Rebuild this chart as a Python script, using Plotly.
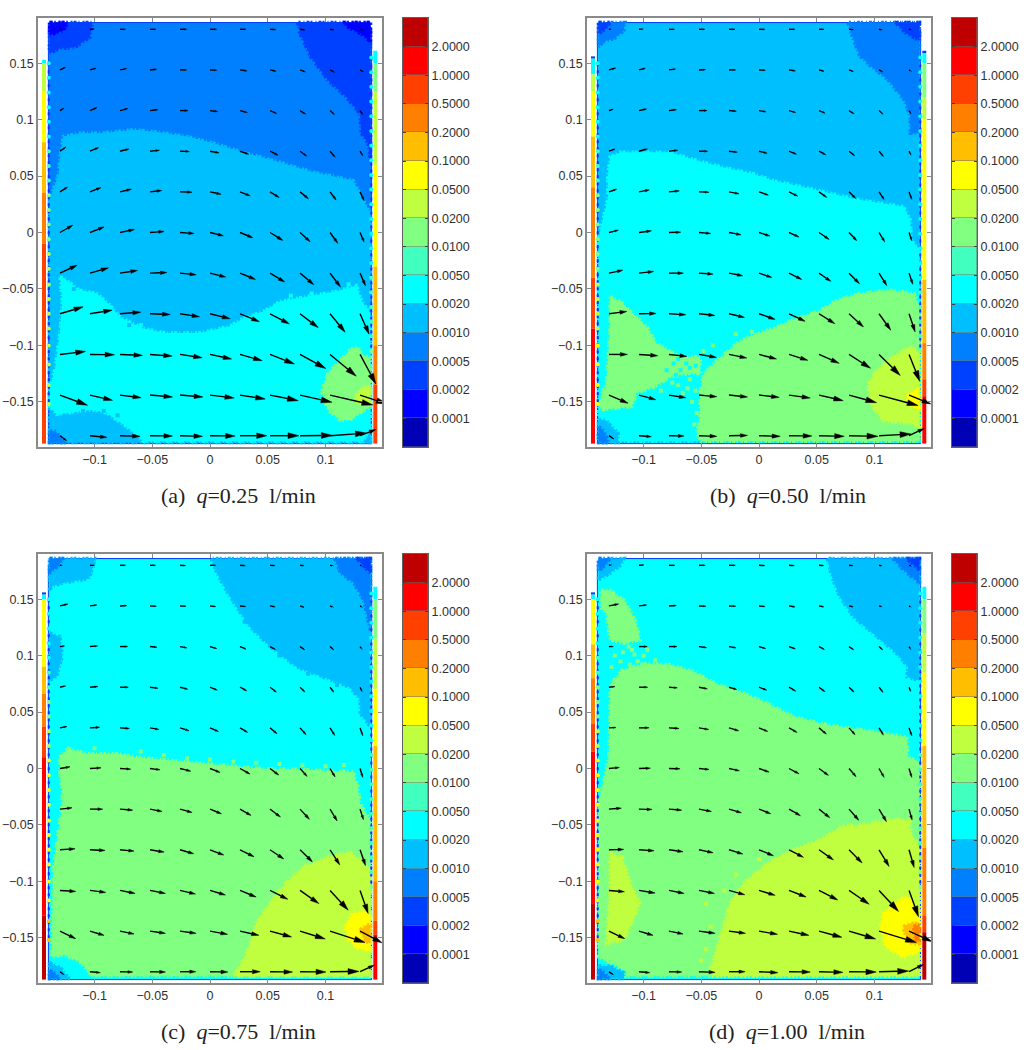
import plotly.graph_objects as go

W, H = 1030, 1050

# colour bands, lowest to highest
band_colors = ["#0000B4", "#0000FF", "#0040FF", "#0080FF", "#00BFFF", "#00FFFF", "#40FFBF", "#80FF80",
               "#BFFF40", "#FFFF00", "#FFBF00", "#FF8000", "#FF4000", "#FF0000", "#BF0000"]
band_labels = ["0.0001", "0.0002", "0.0005", "0.0010", "0.0020", "0.0050", "0.0100", "0.0200",
               "0.0500", "0.1000", "0.2000", "0.5000", "1.0000", "2.0000"]

xticks = [-0.1, -0.05, 0, 0.05, 0.1]
xticktext = ["\u22120.1", "\u22120.05", "0", "0.05", "0.1"]
yticks = [-0.15, -0.1, -0.05, 0, 0.05, 0.1, 0.15]
yticktext = ["\u22120.15", "\u22120.1", "\u22120.05", "0", "0.05", "0.1", "0.15"]

# quiver grid (m)
grid_x = [-0.13, -0.104, -0.078, -0.052, -0.026, 0, 0.026, 0.052, 0.078, 0.104, 0.13]
grid_y = [0.18, 0.144, 0.108, 0.072, 0.036, 0, -0.036, -0.072, -0.108, -0.144, -0.18]

# quiver components, one row per grid_y; V is read downwards
Ua = [[6, 13, 17, 18, 20, 20, 18, 18, 15, 12, 8],
      [17, 18, 20, 20, 20, 20, 21, 18, 16, 13, 10],
      [12, 21, 23, 24, 24, 23, 22, 20, 17, 13, 8],
      [18, 26, 27, 28, 28, 27, 26, 24, 20, 15, 8],
      [23, 33, 34, 35, 36, 33, 30, 27, 25, 18, 12],
      [38, 42, 43, 42, 42, 40, 38, 38, 30, 23, 12],
      [51, 55, 52, 50, 48, 47, 46, 44, 41, 31, 16],
      [69, 66, 62, 60, 58, 60, 58, 58, 54, 45, 27],
      [76, 73, 67, 66, 66, 64, 66, 73, 77, 78, 47],
      [82, 67, 63, 67, 68, 72, 75, 84, 95, 127, 80],
      [20, 50, 60, 67, 67, 75, 80, 86, 96, 108, 47]]
Va = [[0, -1, 0, 0, 0, 0, 0, 1, 2, 2, 3],
      [-8, -5, -4, -2, 0, 1, 3, 4, 6, 7, 6],
      [-7, -9, -6, -3, 0, 3, 6, 9, 11, 12, 12],
      [-13, -11, -7, -3, 1, 5, 9, 12, 15, 18, 14],
      [-15, -13, -8, -4, 1, 7, 12, 17, 21, 25, 27],
      [-22, -17, -9, -3, 3, 10, 16, 24, 28, 33, 29],
      [-24, -16, -8, -2, 5, 12, 19, 27, 35, 42, 38],
      [-21, -11, -5, 2, 9, 15, 24, 31, 42, 56, 62],
      [-9, 1, 3, 5, 10, 14, 19, 29, 43, 66, 90],
      [31, 16, 8, 6, 6, 9, 12, 17, 22, 30, 27],
      [15, 5, 2, 1, 2, 1, 0, 0, -1, -8, -19]]

Ub = [[7, 13, 17, 18, 18, 18, 18, 15, 13, 10, 7],
      [20, 19, 20, 20, 20, 19, 19, 15, 13, 11, 7],
      [13, 23, 23, 24, 22, 21, 20, 18, 15, 12, 6],
      [18, 25, 26, 26, 25, 24, 22, 20, 17, 13, 6],
      [23, 31, 31, 30, 30, 28, 26, 23, 20, 15, 8],
      [28, 37, 35, 35, 36, 33, 30, 30, 23, 17, 8],
      [41, 44, 43, 42, 41, 38, 38, 35, 31, 23, 11],
      [53, 51, 50, 47, 46, 48, 48, 47, 43, 35, 18],
      [55, 56, 53, 52, 53, 52, 56, 60, 64, 63, 32],
      [57, 50, 50, 53, 55, 60, 63, 72, 82, 116, 65],
      [15, 37, 45, 53, 55, 63, 68, 75, 86, 95, 45]]
Vb = [[0, -1, 0, 0, 0, 0, 0, 0, 1, 2, 2],
      [-6, -5, -3, -1, 0, 1, 3, 4, 5, 6, 5],
      [-4, -5, -3, 0, 2, 4, 6, 8, 10, 11, 10],
      [-7, -7, -3, 0, 3, 6, 9, 11, 14, 16, 12],
      [-8, -6, -3, 1, 6, 10, 13, 17, 20, 23, 23],
      [-7, -5, -1, 3, 7, 11, 14, 21, 25, 29, 25],
      [-9, -5, 0, 3, 8, 13, 19, 25, 32, 38, 34],
      [-7, -1, 3, 5, 11, 17, 23, 30, 40, 50, 55],
      [0, 4, 6, 9, 11, 14, 18, 27, 42, 64, 82],
      [25, 14, 8, 5, 6, 7, 9, 17, 23, 32, 27],
      [10, 3, 1, 2, -1, 2, 1, 2, 2, -5, -22]]

Uc = [[7, 14, 17, 17, 17, 17, 16, 15, 12, 10, 7],
      [24, 21, 21, 19, 18, 17, 17, 15, 12, 10, 7],
      [14, 23, 23, 21, 21, 20, 18, 16, 14, 11, 6],
      [17, 24, 25, 24, 23, 22, 20, 19, 15, 11, 6],
      [21, 29, 28, 27, 27, 25, 23, 21, 18, 14, 8],
      [30, 33, 32, 30, 32, 30, 30, 26, 21, 15, 8],
      [36, 38, 38, 36, 36, 34, 33, 31, 28, 21, 10],
      [45, 45, 42, 42, 41, 41, 42, 41, 37, 29, 16],
      [47, 47, 45, 46, 46, 46, 48, 53, 56, 54, 24],
      [47, 42, 42, 46, 48, 52, 56, 64, 75, 104, 66],
      [12, 31, 38, 46, 47, 53, 60, 67, 77, 86, 42]]
Vc = [[0, 0, 0, 0, 1, 0, 1, 1, 1, 2, 3],
      [-6, -3, -1, 1, 1, 2, 2, 3, 4, 5, 5],
      [-2, -2, 0, 2, 4, 6, 8, 9, 10, 10, 9],
      [-4, -2, 0, 3, 6, 9, 11, 15, 15, 15, 13],
      [-4, -2, 2, 5, 9, 11, 14, 18, 21, 23, 24],
      [-5, -2, 2, 4, 8, 12, 17, 20, 24, 26, 27],
      [-4, 0, 3, 7, 10, 14, 19, 24, 31, 36, 32],
      [-3, 2, 4, 7, 12, 16, 21, 28, 37, 46, 48],
      [3, 6, 9, 9, 11, 14, 20, 27, 40, 60, 70],
      [23, 13, 9, 7, 7, 10, 13, 18, 24, 35, 36],
      [9, 3, 1, 1, 0, 1, 0, 1, 1, -1, -20]]

Ud = [[8, 15, 18, 19, 19, 18, 16, 14, 12, 9, 7],
      [29, 23, 22, 21, 20, 18, 18, 14, 12, 9, 6],
      [13, 25, 24, 23, 21, 20, 19, 16, 14, 11, 5],
      [18, 26, 25, 25, 23, 23, 20, 18, 15, 12, 5],
      [21, 30, 30, 29, 29, 26, 24, 22, 18, 13, 8],
      [31, 34, 33, 30, 31, 30, 30, 28, 21, 15, 8],
      [37, 39, 38, 37, 37, 35, 34, 32, 29, 22, 9],
      [44, 45, 42, 42, 41, 43, 43, 43, 39, 30, 15],
      [46, 48, 45, 46, 47, 48, 51, 56, 60, 58, 28],
      [47, 42, 42, 48, 49, 55, 59, 68, 79, 111, 68],
      [13, 32, 38, 48, 48, 56, 63, 71, 81, 88, 43]]
Vd = [[-1, -1, 0, 0, 0, 1, 1, 1, 1, 2, 3],
      [-6, -3, -1, 1, 1, 2, 3, 3, 3, 3, 4],
      [0, 0, 0, 3, 4, 6, 7, 9, 10, 10, 9],
      [-2, 0, 2, 5, 7, 9, 12, 14, 15, 16, 13],
      [-1, 0, 2, 5, 9, 11, 14, 19, 21, 22, 24],
      [-3, -1, 1, 3, 7, 11, 16, 21, 25, 27, 27],
      [-3, 1, 3, 7, 11, 14, 20, 26, 34, 38, 33],
      [-1, 3, 6, 9, 13, 18, 23, 31, 40, 51, 54],
      [4, 8, 9, 9, 13, 15, 20, 29, 42, 64, 80],
      [23, 13, 9, 7, 7, 10, 13, 19, 24, 35, 32],
      [9, 3, 1, 2, 0, 3, 1, 2, 1, -2, -22]]

# tank outline (mm)
fluid_outline = [(-140, -187), (-140, 180), (-138, 184), (-134, 186), (134, 186), (138, 184), (140, 180), (140, -187)]

# contour regions as (band, outline in mm), painted in order over the base band
base_a = 3
regions_a = [
    (2, [(-139, 186), (-102, 186), (-104, 173), (-117, 164), (-130, 163), (-139, 159)]),
    (1, [(-139, 186), (-123, 186), (-127, 179), (-136, 176), (-139, 175)]),
    (2, [(76, 186), (78, 176), (87, 156), (102, 135), (118, 120), (130, 105), (131, 88), (137, 79), (139, 64), (139, 186)]),
    (1, [(115, 186), (139, 186), (139, 169), (131, 176), (121, 181)]),
    (4, [(-139, 29), (-131, 52), (-130, 67), (-127, 85), (-113, 88), (-95, 88), (-66, 91), (-46, 89), (-20, 85), (3, 79),
         (32, 70), (58, 63), (87, 54), (124, 46), (131, 32), (139, 17), (139, -186), (-139, -186)]),
    (5, [(-130, -39), (-126, -41), (-113, -51), (-98, -54), (-87, -64), (-78, -75), (-58, -85), (-38, -89), (-9, -89),
         (17, -83), (29, -76), (46, -70), (61, -61), (78, -58), (95, -55), (110, -52), (127, -47), (131, -60), (139, -72),
         (139, -185), (-58, -185), (-62, -181), (-72, -172), (-81, -166), (-89, -160), (-101, -157), (-133, -161),
         (-139, -154), (-139, -140), (-134, -119), (-130, -89), (-128, -60)]),
    (3, [(-139, -176), (-134, -176), (-125, -186), (-139, -186)]),
    (4, [(134, -186), (139, -175), (139, -186)]),
    (7, [(98, -137), (102, -125), (113, -113), (121, -104), (128, -101), (131, -108), (139, -111), (139, -154),
         (121, -166), (113, -166), (102, -157), (97, -142)]),
    (8, [(126, -145), (130, -139), (139, -135), (139, -153), (128, -151)]),
]

base_b = 4
regions_b = [
    (3, [(-139, 186), (-116, 186), (-117, 179), (-125, 172), (-135, 169), (-139, 164)]),
    (2, [(-139, 186), (-129, 186), (-132, 181), (-139, 176)]),
    (3, [(77, 186), (82, 170), (87, 157), (96, 148), (112, 135), (126, 117), (131, 103), (131, 88), (139, 88), (139, 186)]),
    (2, [(118, 186), (139, 186), (139, 170), (128, 176)]),
    (5, [(-139, -5), (-131, 30), (-131, 50), (-129, 67), (-120, 71), (-97, 71), (-77, 71), (-51, 63), (-28, 57), (-5, 52),
         (12, 46), (35, 41), (59, 35), (82, 30), (105, 26), (125, 23), (131, 11), (132, -7), (139, -15), (139, -185),
         (-139, -185)]),
    (4, [(-139, -166), (-133, -166), (-122, -178), (-122, -186), (-139, -186)]),
    (3, [(-139, -172), (-135, -175), (-130, -186), (-139, -186)]),
    (7, [(139, -66), (134, -54), (113, -51), (87, -54), (67, -60), (53, -69), (30, -77), (12, -85), (-8, -92), (-19, -98),
         (-34, -111), (-48, -125), (-51, -142), (-51, -164), (-54, -178), (-50, -185), (139, -185)]),
    (7, [(-129, -57), (-120, -61), (-109, -72), (-97, -84), (-89, -98), (-68, -110), (-51, -110), (-51, -125), (-63, -125),
         (-77, -128), (-91, -137), (-106, -142), (-110, -154), (-135, -157), (-139, -154), (-132, -131), (-129, -84)]),
    (8, [(95, -134), (102, -122), (116, -110), (131, -101), (139, -107), (139, -172), (131, -169), (108, -167), (96, -151)]),
    (9, [(128, -145), (138, -138), (139, -155), (131, -154)]),
]

base_c = 5
regions_c = [
    (4, [(-139, 186), (-100, 186), (-101, 179), (-105, 168), (-124, 165), (-136, 162), (-139, 158)]),
    (3, [(-139, 186), (-127, 186), (-131, 180), (-139, 173)]),
    (4, [(1, 186), (6, 173), (14, 158), (23, 143), (35, 125), (52, 108), (75, 90), (98, 81), (121, 72), (130, 61), (130, 49),
         (139, 37), (139, 186)]),
    (3, [(108, 186), (113, 173), (124, 165), (133, 149), (139, 122), (139, 186)]),
    (2, [(127, 186), (139, 186), (139, 173), (133, 180)]),
    (4, [(-139, 120), (-130, 117), (-128, 99), (-133, 81), (-139, 78)]),
    (7, [(-130, 10), (-123, 18), (-107, 13), (-78, 13), (-64, 10), (-43, 8), (-14, 5), (14, 2), (43, 0), (84, -1), (124, -3),
         (128, -16), (130, -31), (139, -46), (139, -184), (-104, -184), (-104, -181), (-113, -171), (-127, -165), (-137, -167),
         (-136, -90), (-128, -31), (-128, -19), (-130, -7)]),
    (8, [(35, -155), (40, -137), (52, -119), (66, -101), (81, -87), (104, -78), (121, -74), (133, -84), (139, -90), (139, -184),
         (20, -184), (29, -170)]),
    (9, [(117, -140), (124, -128), (136, -127), (139, -132), (139, -161), (127, -159), (120, -152)]),
    (10, [(130, -143), (136, -138), (139, -139), (139, -155), (134, -153)]),
    (4, [(-139, -172), (-130, -176), (-122, -186), (-139, -186)]),
    (3, [(-139, -179), (-134, -181), (-131, -186), (-139, -186)]),
]

base_d = 5
regions_d = [
    (4, [(-139, 186), (-117, 186), (-120, 180), (-129, 173), (-139, 167)]),
    (3, [(-139, 186), (-129, 186), (-133, 180), (-139, 175)]),
    (4, [(59, 186), (63, 170), (70, 152), (82, 134), (102, 117), (119, 102), (129, 90), (128, 81), (139, 78), (139, 186)]),
    (3, [(116, 186), (125, 176), (139, 164), (139, 186)]),
    (2, [(128, 186), (139, 186), (139, 176), (134, 180)]),
    (7, [(-137, 158), (-129, 158), (-117, 149), (-107, 131), (-103, 114), (-117, 111), (-129, 114), (-132, 137), (-137, 143)]),
    (7, [(-126, 78), (-119, 87), (-100, 93), (-77, 92), (-57, 86), (-37, 75), (-14, 67), (7, 58), (30, 46), (53, 40), (76, 36),
         (99, 33), (128, 28), (129, 10), (139, 6), (139, -90), (139, -184), (-115, -184), (-115, -180), (-123, -175), (-135, -169),
         (-139, -167), (-139, -31), (-130, 10), (-129, 55), (-129, 69)]),
    (8, [(-42, -178), (-34, -149), (-25, -119), (-14, -102), (7, -84), (30, -72), (53, -63), (73, -51), (87, -50), (116, -45),
         (131, -46), (131, -57), (139, -69), (139, -184), (-40, -184)]),
    (8, [(-129, -75), (-119, -78), (-109, -108), (-103, -119), (-109, -134), (-117, -152), (-132, -155), (-130, -128), (-129, -105)]),
    (9, [(105, -140), (108, -128), (119, -119), (128, -113), (139, -128), (139, -162), (125, -167), (110, -158)]),
    (10, [(125, -140), (131, -137), (139, -137), (139, -155), (134, -156), (128, -152)]),
    (11, [(134, -140), (139, -138), (139, -152), (135, -152)]),
    (4, [(-139, -175), (-129, -175), (-117, -181), (-117, -186), (-139, -186)]),
    (3, [(-139, -178), (-135, -180), (-130, -186), (-139, -186)]),
]

# specks where two bands mix, as (band, points in mm)
specks_a = [(5, [(-60, -82), (-52, -90), (-44, -92), (-20, -92), (70, -56), (88, -54), (120, -46)]),
            (4, [(-118, -50), (-70, -82), (-110, -158), (-92, -158), (-80, -162)])]
specks_b = [(5, [(-74, -116), (-68, -122), (-63, -116), (-57, -128), (-66, -130), (-72, -126), (-60, -120), (-55, -118),
                 (-80, -122), (-70, -112)]),
            (7, [(-70, -135), (-62, -138), (-55, -140), (-58, -150), (-54, -160), (-75, -133), (-85, -140), (-66, -142),
                 (-60, -130), (-56, -170), (-48, -105), (-40, -100), (-20, -90), (-6, -88)])]
specks_c = [(7, [(-100, 18), (-60, 15), (-40, 12), (-20, 9), (0, 8), (20, 6), (40, 5), (60, 4), (80, 3), (100, 2), (116, 3)]),
            (4, [(20, 150), (30, 130), (45, 117), (60, 100), (85, 84), (110, 74)])]
specks_d = [(7, [(-125, 100), (-118, 103), (-110, 105), (-100, 100), (-97, 105), (-105, 95), (-112, 92), (-120, 95),
                 (-90, 96), (-128, 90), (-113, 108), (-108, 101)]),
            (8, [(-46, -120), (-42, -140), (-46, -160), (-30, -108), (-20, -94), (0, -80), (-50, -170)])]

# wall bands as (top mm, bottom mm, band)
wall_left_a = [(153, 150, 5), (150, 125, 8), (125, 80, 9), (80, 35, 10), (35, -10, 11), (-10, -187, 12)]
wall_right_a = [(161, 150, 5), (150, 125, 7), (125, 60, 8), (60, -30, 9), (-30, -100, 10), (-100, -135, 11), (-135, -187, 12)]
wall_left_b = [(156, 154, 2), (154, 140, 5), (140, 125, 8), (125, 85, 9), (85, 40, 10), (40, -40, 11), (-40, -85, 12), (-85, -187, 13)]
wall_right_b = [(161, 159, 2), (159, 150, 5), (150, 120, 7), (120, 100, 8), (100, -42, 9), (-42, -98, 10), (-98, -130, 11),
                (-130, -145, 12), (-145, -187, 13)]
wall_left_c = [(156, 154, 2), (154, 150, 5), (150, 90, 9), (90, 66, 10), (66, 37, 11), (37, 10, 12), (10, -130, 13), (-130, -187, 14)]
wall_right_c = [(161, 150, 5), (150, 115, 7), (115, 70, 8), (70, 20, 9), (20, -100, 10), (-100, -135, 11), (-135, -147, 12), (-147, -187, 13)]
wall_left_d = [(156, 154, 2), (154, 150, 5), (150, 110, 9), (110, 80, 10), (80, 40, 11), (40, 15, 12), (15, -120, 13), (-120, -187, 14)]
wall_right_d = [(161, 150, 5), (150, 120, 7), (120, 85, 8), (85, 20, 9), (20, -70, 10), (-70, -130, 11), (-130, -145, 12), (-145, -187, 14)]

# inlet beads along the two walls (mm)
beads_left = [150, 137, 124, 111, 98, 85, 72, 59, 46, 33, 20, 7, -6, -19, -32, -46, -59, -72, -85, -100, -117, -135, -152]
beads_right = [155, 142, 129, 116, 103, 90, 77, 64, 51, 38, 25, 12, -1, -14, -27, -40, -53, -66, -79, -92, -105]

panels = [
    dict(letter="a", q="0.25", left=38, top=18, bar=403, cap=238, U=Ua, V=Va, base=base_a, regions=regions_a,
         specks=specks_a, wl=wall_left_a, wr=wall_right_a),
    dict(letter="b", q="0.50", left=587, top=18, bar=952, cap=788, U=Ub, V=Vb, base=base_b, regions=regions_b,
         specks=specks_b, wl=wall_left_b, wr=wall_right_b),
    dict(letter="c", q="0.75", left=38, top=554, bar=403, cap=238, U=Uc, V=Vc, base=base_c, regions=regions_c,
         specks=specks_c, wl=wall_left_c, wr=wall_right_c),
    dict(letter="d", q="1.00", left=587, top=554, bar=952, cap=787, U=Ud, V=Vd, base=base_d, regions=regions_d,
         specks=specks_d, wl=wall_left_d, wr=wall_right_d),
]

QUIVER_SCALE = 1 / 3430.0
FRAME = "#8a8a8a"
TEXT = "#303030"


def poly(fig, pts, color, axes, edge=True):
    xs = [p[0] / 1000 for p in pts] + [pts[0][0] / 1000]
    ys = [p[1] / 1000 for p in pts] + [pts[0][1] / 1000]
    line = dict(color=color, width=3.5, dash="3px,2px,1px,3px,2px,1px") if edge else dict(color="#0040FF", width=1)
    fig.add_trace(go.Scatter(x=xs, y=ys, mode="lines", fill="toself", fillcolor=color, line=line,
                             hoverinfo="skip", showlegend=False, **axes))


def wall_level(wall, y):
    for top, bot, band in wall:
        if bot <= y <= top:
            return band
    return wall[-1][2]


def add_wall(fig, wall, x, axes):
    for top, bot, band in wall:
        fig.add_trace(go.Scatter(x=[x, x], y=[top / 1000, bot / 1000], mode="lines",
                                 line=dict(color=band_colors[band], width=4),
                                 hoverinfo="skip", showlegend=False, **axes))


def add_beads(fig, beads, wall, x, size, axes):
    fig.add_trace(go.Scatter(x=[x, x], y=[beads[0] / 1000, beads[-1] / 1000], mode="lines",
                             line=dict(color="#1030FF", width=2, dash="3px,4px"),
                             hoverinfo="skip", showlegend=False, **axes))
    cols = [band_colors[max(wall_level(wall, y) - 4, 5)] for y in beads]
    fig.add_trace(go.Scatter(x=[x] * len(beads), y=[y / 1000 for y in beads], mode="markers",
                             marker=dict(size=size, color=cols), hoverinfo="skip", showlegend=False, **axes))


def add_quiver(fig, U, V, axes):
    sx, sy, hx, hy = [], [], [], []
    for j, y0 in enumerate(grid_y):
        for i, x0 in enumerate(grid_x):
            dx = U[j][i] * QUIVER_SCALE
            dy = -V[j][i] * QUIVER_SCALE
            L = (dx * dx + dy * dy) ** 0.5
            h = min(0.38 * L, 0.0095)
            ux, uy = dx / L, dy / L
            x1, y1 = x0 + dx, y0 + dy
            bx, by = x1 - ux * h, y1 - uy * h
            w = 0.27 * h
            sx += [x0, bx, None]
            sy += [y0, by, None]
            hx += [x1, bx - uy * w, bx + uy * w, x1, None]
            hy += [y1, by + ux * w, by - ux * w, y1, None]
    fig.add_trace(go.Scatter(x=sx, y=sy, mode="lines", line=dict(color="black", width=1.4),
                             hoverinfo="skip", showlegend=False, **axes))
    fig.add_trace(go.Scatter(x=hx, y=hy, mode="lines", fill="toself", fillcolor="black",
                             line=dict(color="black", width=0.5), hoverinfo="skip", showlegend=False, **axes))


fig = go.Figure()
layout = {}
notes = []

for n, p in enumerate(panels):
    ax_id = 2 * n + 1
    bar_id = 2 * n + 2
    axes = dict(xaxis=f"x{ax_id}", yaxis=f"y{ax_id}")
    bar_axes = dict(xaxis=f"x{bar_id}", yaxis=f"y{bar_id}")
    box_h = 429
    y_dom = [1 - (p["top"] + box_h) / H, 1 - p["top"] / H]

    poly(fig, fluid_outline, band_colors[p["base"]], axes, edge=False)
    for band, pts in p["regions"]:
        poly(fig, pts, band_colors[band], axes)
    for band, pts in p["specks"]:
        fig.add_trace(go.Scatter(x=[s[0] / 1000 for s in pts], y=[s[1] / 1000 for s in pts], mode="markers",
                                 marker=dict(size=4, color=band_colors[band], symbol="square"),
                                 hoverinfo="skip", showlegend=False, **axes))
    add_wall(fig, p["wl"], -0.1438, axes)
    add_wall(fig, p["wr"], 0.1432, axes)
    add_beads(fig, beads_left, p["wl"], -0.1397, 4, axes)
    add_beads(fig, beads_right, p["wr"], 0.1397, 4, axes)
    add_quiver(fig, p["U"], p["V"], axes)

    # stacked colour bar
    fig.add_trace(go.Bar(x=[0] * 15, y=[1] * 15, width=1, marker=dict(color=band_colors, line=dict(color="#707070", width=0.5)),
                         hoverinfo="skip", showlegend=False, **bar_axes))

    common = dict(showline=True, linecolor=FRAME, linewidth=1.5, mirror="ticks", ticks="inside", ticklen=4,
                  tickcolor=FRAME, tickwidth=1, showgrid=False, zeroline=False,
                  tickfont=dict(family="Liberation Sans", size=12.5, color=TEXT))
    layout[f"xaxis{ax_id}"] = dict(domain=[p["left"] / W, (p["left"] + 344) / W], range=[-0.149, 0.149],
                                   anchor=f"y{ax_id}", tickmode="array", tickvals=xticks, ticktext=xticktext, **common)
    layout[f"yaxis{ax_id}"] = dict(domain=y_dom, range=[-0.19, 0.19], anchor=f"x{ax_id}",
                                   tickmode="array", tickvals=yticks, ticktext=yticktext, **common)
    layout[f"xaxis{bar_id}"] = dict(domain=[p["bar"] / W, (p["bar"] + 25) / W], range=[-0.5, 0.5],
                                    anchor=f"y{bar_id}", showticklabels=False, ticks="", showline=True,
                                    linecolor="#606060", linewidth=1, mirror=True, showgrid=False, zeroline=False)
    bar_common = dict(common, linecolor="#606060", linewidth=1, tickcolor="#404040", ticklen=3)
    layout[f"yaxis{bar_id}"] = dict(domain=y_dom, range=[0, 15], anchor=f"x{bar_id}", side="right",
                                    tickmode="array", tickvals=list(range(1, 15)), ticktext=band_labels, **bar_common)

    notes.append(dict(text=f"({p['letter']})\u00a0\u00a0<i>q</i>={p['q']}\u00a0\u00a0l/min", x=p["cap"] / W,
                      y=1 - (p["top"] + 477) / H, xref="paper", yref="paper", xanchor="center", yanchor="middle",
                      showarrow=False, font=dict(family="Liberation Serif", size=22, color="#222222")))

fig.update_layout(width=W, height=H, autosize=False, margin=dict(l=0, r=0, t=0, b=0), paper_bgcolor="white",
                  plot_bgcolor="white", barmode="stack", bargap=0, showlegend=False, annotations=notes, **layout)

fig.write_html("out.html", config={"displayModeBar": False}, post_script="document.body.style.margin='0'")
